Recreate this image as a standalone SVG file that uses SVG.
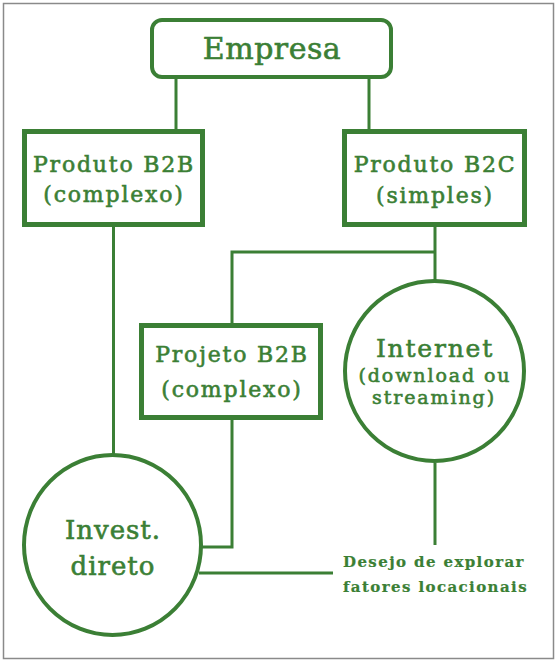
<svg xmlns="http://www.w3.org/2000/svg" width="560" height="663" viewBox="0 0 560 663">
<style>
.box{fill:#fff;stroke:#3b7f35;stroke-width:5}
.rbox{fill:#fff;stroke:#3b7f35;stroke-width:4}
.circ{fill:#fff;stroke:#3b7f35;stroke-width:4}
.ln{fill:none;stroke:#3b7f35;stroke-width:3}
text{font-family:"DejaVu Serif","Liberation Serif",serif;fill:#3b7f35;stroke:#3b7f35;stroke-width:0.6px;text-anchor:middle}
.t22{font-size:22px;letter-spacing:1.8px}
.t20{font-size:19px;letter-spacing:1.9px}
.lbl{font-size:15px;font-weight:bold;letter-spacing:1.4px;text-anchor:start;stroke-width:0.2px}
</style>
<rect x="3.5" y="3.5" width="550" height="655" fill="#fff" stroke="#8a8a8a" stroke-width="1.5"/>
<g id="connectors">
<path class="ln" d="M176 78V131"/>
<path class="ln" d="M369 78V131"/>
<path class="ln" d="M113.5 227V455"/>
<path class="ln" d="M435 227V281"/>
<path class="ln" d="M232 325V252H435"/>
<path class="ln" d="M232 418V547H201"/>
<path class="ln" d="M435 463V545"/>
<path class="ln" d="M199 573H333"/>
</g>
<g id="empresa">
<rect class="rbox" x="152" y="20" width="239" height="57" rx="10"/>
<text x="272" y="59" style="font-size:30px;letter-spacing:0.5px">Empresa</text>
</g>
<g id="produto-b2b">
<rect class="box" x="24.5" y="131.5" width="178" height="93"/>
<text class="t22" x="114" y="172">Produto B2B</text>
<text class="t22" x="114" y="202">(complexo)</text>
</g>
<g id="produto-b2c">
<rect class="box" x="344.5" y="131.5" width="180" height="93"/>
<text class="t22" x="435" y="172">Produto B2C</text>
<text class="t22" x="435" y="203">(simples)</text>
</g>
<g id="projeto-b2b">
<rect class="box" x="141.5" y="325.5" width="179" height="92"/>
<text class="t22" x="232" y="362">Projeto B2B</text>
<text class="t22" x="232" y="397">(complexo)</text>
</g>
<g id="internet">
<ellipse class="circ" cx="434.5" cy="371" rx="89.5" ry="90"/>
<text x="435" y="357" style="font-size:25px;letter-spacing:1.8px">Internet</text>
<text class="t20" x="435" y="382">(download ou</text>
<text class="t20" x="434" y="404">streaming)</text>
</g>
<g id="invest-direto">
<ellipse class="circ" cx="112.5" cy="545" rx="88.5" ry="90"/>
<text x="113" y="539" style="font-size:26px;letter-spacing:1px">Invest.</text>
<text x="113" y="575" style="font-size:26px;letter-spacing:1px">direto</text>
</g>
<g id="desejo">
<text class="lbl" x="343" y="567">Desejo de explorar</text>
<text class="lbl" x="343" y="592">fatores locacionais</text>
</g>
</svg>
